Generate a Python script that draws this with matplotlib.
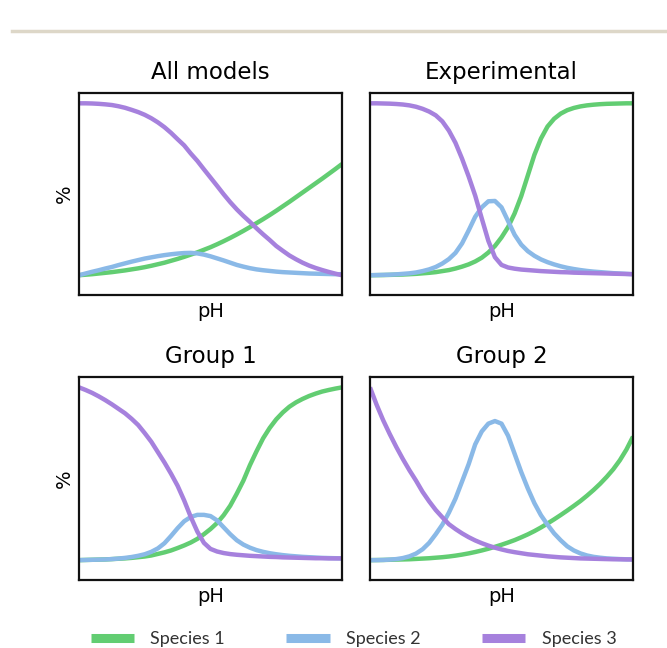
import numpy as np
import matplotlib
matplotlib.use("Agg")
from matplotlib import pyplot as plt
from matplotlib.lines import Line2D

# sample index along the pH axis (41 readings per curve)
ph = np.arange(41)

titles = ["All models", "Experimental", "Group 1", "Group 2"]
species = ["Species 1", "Species 2", "Species 3"]
colors = ["#62cd72", "#8ab9e7", "#a681dd"]

# All models
all_s1 = [0, 0.3, 0.6, 1.0, 1.4, 1.8, 2.3, 2.8, 3.4, 4.0, 4.7, 5.5, 6.4, 7.3, 8.4, 9.5,
          10.7, 12.0, 13.3, 14.8, 16.3, 18.0, 19.8, 21.7, 23.7, 25.8, 28.0, 30.3, 32.6, 35.0,
          37.5, 40.1, 42.7, 45.4, 48.1, 50.8, 53.5, 56.2, 59.0, 61.8, 64.7]
all_s2 = [0, 1.0, 2.0, 2.9, 3.9, 4.8, 5.9, 6.9, 7.9, 8.8, 9.7, 10.4, 11.1, 11.7, 12.2, 12.6,
          12.9, 13.0, 12.7, 12.0, 11.0, 9.8, 8.6, 7.3, 6.0, 5.0, 4.1, 3.4, 2.9, 2.5,
          2.1, 1.8, 1.6, 1.4, 1.2, 1.0, 0.9, 0.8, 0.7, 0.6, 0.6]
all_s3 = [100, 100, 99.9, 99.7, 99.4, 99.0, 98.3, 97.4, 96.2, 94.9, 93.3, 91.3, 88.9, 86.1,
          82.8, 79.1, 75.5, 70.8, 66.5, 61.6, 56.8, 52.0, 47.1, 42.5, 38.3, 34.5, 31.0, 27.3,
          23.8, 20.5, 17.0, 14.2, 11.5, 9.3, 7.3, 5.6, 4.2, 3.0, 1.9, 0.9, 0]

# Experimental
exp_s1 = [0, 0.05, 0.1, 0.2, 0.3, 0.4, 0.6, 0.8, 1.1, 1.4, 1.8, 2.4, 3.0, 3.9, 5.0, 6.3,
          8.0, 10.2, 13.2, 17.0, 22.0, 28.0, 36.0, 46.0, 58.0, 70.0, 79.5, 86.5, 91.0, 94.0,
          96.0, 97.3, 98.2, 98.8, 99.2, 99.5, 99.7, 99.8, 99.9, 100, 100]
exp_s2 = [0, 0.1, 0.2, 0.3, 0.5, 0.8, 1.1, 1.6, 2.4, 3.4, 4.8, 6.8, 9.4, 13.0, 18.5, 26.0,
          34.0, 39.5, 43.0, 43.2, 39.5, 31.5, 23.5, 17.8, 14.0, 11.3, 9.2, 7.6, 6.3, 5.2,
          4.3, 3.6, 3.0, 2.5, 2.1, 1.8, 1.5, 1.2, 1.0, 0.8, 0.6]
exp_s3 = [100, 100, 99.9, 99.8, 99.6, 99.3, 98.8, 98.0, 96.8, 95.2, 93.0, 89.5, 84.1, 77.0,
          67.8, 57.5, 46.3, 33.0, 20.0, 10.5, 6.0, 4.5, 3.8, 3.3, 3.0, 2.7, 2.4, 2.2,
          2.0, 1.8, 1.7, 1.5, 1.4, 1.3, 1.2, 1.1, 1.0, 0.9, 0.8, 0.7, 0.6]

# Group 1
g1_s1 = [0, 0.1, 0.2, 0.3, 0.4, 0.6, 0.8, 1.0, 1.3, 1.7, 2.1, 2.7, 3.6, 4.5, 5.6, 7.0,
         8.5, 10.2, 12.3, 15.0, 18.0, 21.5, 26.0, 31.5, 38.5, 46.0, 55.0, 63.0, 70.5, 76.5,
         81.5, 85.5, 88.8, 91.3, 93.3, 95.0, 96.4, 97.6, 98.5, 99.3, 100]
g1_s2 = [0, 0.1, 0.2, 0.3, 0.4, 0.6, 0.9, 1.3, 1.8, 2.5, 3.4, 4.8, 6.8, 9.8, 14.0, 18.5,
         22.5, 25.0, 26.2, 26.2, 25.5, 23.0, 19.0, 15.0, 11.5, 9.0, 7.2, 5.8, 4.8, 4.0,
         3.4, 2.9, 2.5, 2.2, 1.9, 1.7, 1.5, 1.3, 1.2, 1.1, 1.0]
g1_s3 = [100, 98.5, 96.8, 94.8, 92.6, 90.2, 87.6, 85.0, 81.8, 78.2, 73.5, 68.5, 62.5, 56.5,
         50.0, 43.0, 34.5, 25.0, 16.5, 10.0, 6.5, 5.0, 4.1, 3.5, 3.1, 2.8, 2.5, 2.3,
         2.1, 1.9, 1.8, 1.6, 1.5, 1.4, 1.3, 1.2, 1.1, 1.1, 1.0, 1.0, 1.0]

# Group 2
g2_s1 = [0, 0.05, 0.1, 0.2, 0.3, 0.4, 0.5, 0.7, 0.9, 1.1, 1.4, 1.7, 2.1, 2.6, 3.2, 3.9,
         4.7, 5.6, 6.6, 7.7, 8.9, 10.2, 11.6, 13.2, 14.9, 16.8, 18.9, 21.2, 23.6, 26.1,
         28.7, 31.4, 34.2, 37.3, 40.6, 44.2, 48.2, 52.6, 57.8, 64.0, 71.5]
g2_s2 = [0, 0, 0.1, 0.3, 0.6, 1.2, 2.2, 3.8, 6.3, 10.0, 15.0, 20.5, 27.5, 35.6, 45.5, 55.5,
         67.0, 74.5, 79.0, 80.5, 79.0, 72.0, 61.5, 51.0, 41.5, 33.0, 26.0, 20.5, 15.5, 11.5,
         8.0, 5.6, 3.9, 2.7, 1.9, 1.4, 1.0, 0.8, 0.6, 0.5, 0.4]
g2_s3 = [100, 90.0, 81.0, 73.0, 65.5, 58.5, 52.0, 46.0, 39.5, 34.0, 29.0, 24.8, 20.8, 18.0,
         15.5, 13.3, 11.4, 9.8, 8.4, 7.2, 6.2, 5.3, 4.6, 4.0, 3.4, 3.0, 2.6, 2.2,
         1.9, 1.6, 1.4, 1.2, 1.0, 0.9, 0.8, 0.7, 0.6, 0.5, 0.5, 0.4, 0.4]

panels = [
    [all_s1, all_s2, all_s3],
    [exp_s1, exp_s2, exp_s3],
    [g1_s1, g1_s2, g1_s3],
    [g2_s1, g2_s2, g2_s3],
]

fig = plt.figure(figsize=(6.67, 6.48), dpi=100)
W, H = 667.0, 648.0
# axes boxes in pixels: left, top, right, bottom
boxes = [(79, 93, 342, 295), (370, 93, 633, 295), (79, 377, 342, 580), (370, 377, 633, 580)]

lines = []
for k, (l, t, r, b) in enumerate(boxes):
    ax = fig.add_axes([l / W, 1 - b / H, (r - l) / W, (b - t) / H])
    for s, vals in enumerate(panels[k]):
        ln, = ax.plot(ph, vals, color=colors[s], lw=3.2, solid_capstyle="butt",
                      solid_joinstyle="round")
        if k == 0:
            lines.append(ln)
    ax.set_xlim(0, 40)
    ax.set_ylim(-11.5, 106)
    ax.set_xticks([])
    ax.set_yticks([])
    for sp in ax.spines.values():
        sp.set_linewidth(1.6)
        sp.set_color("#111111")
    ax.set_title(titles[k], fontsize=16.5, pad=10)
    ax.set_xlabel("pH", fontsize=14, labelpad=5)
    if k % 2 == 0:
        ax.set_ylabel("%", fontsize=14, labelpad=4)

# beige rule across the top
fig.add_artist(Line2D([12 / W, 1.0], [1 - 31 / H, 1 - 31 / H], color="#ddd7c8", lw=2.5))

leg = fig.legend(lines, species, loc="lower center", bbox_to_anchor=(0.53, -0.024),
                 ncol=3, frameon=False, handlelength=2.4, handletextpad=0.9,
                 columnspacing=3.4, prop={"family": "Lato", "size": 13})
for h in leg.get_lines():
    h.set_linewidth(6.5)
for tx in leg.get_texts():
    tx.set_color("#333333")

fig.savefig("out.png", dpi=100)
